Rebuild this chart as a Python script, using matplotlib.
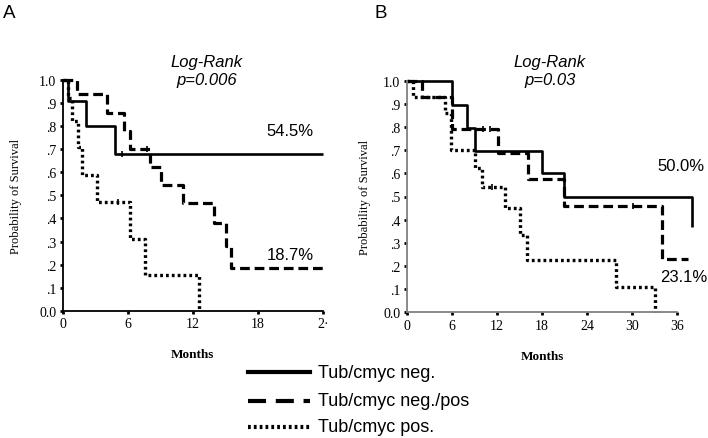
import matplotlib
matplotlib.use("Agg")
import matplotlib.pyplot as plt
from matplotlib.lines import Line2D

plt.rcParams['lines.scale_dashes'] = False

# ---------------- data ----------------
# Panel A (months, survival probability)
a_neg_t = [0, 0.45, 2.15, 4.8, 24.0]
a_neg_s = [1.0, 0.909, 0.80, 0.68, 0.68]
a_negpos_t = [0, 1.3, 4.1, 5.66, 6.2, 8.06, 9.08, 11.1, 14.0, 15.1, 15.5, 24.0]
a_negpos_s = [1.0, 0.937, 0.857, 0.778, 0.70, 0.623, 0.543, 0.465, 0.38, 0.28, 0.187, 0.187]
a_pos_t = [0, 0.5, 0.83, 1.44, 1.75, 3.14, 6.2, 7.6, 12.6]
a_pos_s = [1.0, 0.92, 0.82, 0.71, 0.59, 0.47, 0.31, 0.155, 0.0]
a_neg_cens_t = [5.5]
a_neg_cens_s = [0.68]
a_negpos_cens_t = [7.8]
a_negpos_cens_s = [0.70]
a_pos_cens_t = [5.1]
a_pos_cens_s = [0.47]

# Panel B
b_neg_t = [0, 6.0, 8.07, 9.08, 17.95, 20.9, 37.9]
b_neg_s = [1.0, 0.896, 0.795, 0.698, 0.60, 0.50, 0.37]
b_negpos_t = [0, 2.0, 6.0, 12.2, 16.2, 20.9, 34.0, 37.4]
b_negpos_s = [1.0, 0.929, 0.79, 0.687, 0.575, 0.46, 0.23, 0.23]
b_pos_t = [0, 0.9, 5.1, 5.9, 9.1, 10.0, 13.1, 15.1, 16.0, 27.9, 33.0]
b_pos_s = [1.0, 0.93, 0.86, 0.70, 0.622, 0.54, 0.45, 0.335, 0.225, 0.11, 0.0]
b_negpos_cens_t = [10.2, 11.1, 30.1]
b_negpos_cens_s = [0.79, 0.79, 0.46]
b_pos_cens_t = [11.3]
b_pos_cens_s = [0.54]

y_ticks = [0.0, 0.1, 0.2, 0.3, 0.4, 0.5, 0.6, 0.7, 0.8, 0.9, 1.0]
y_ticklabels = ["0.0", ".1", ".2", ".3", ".4", ".5", ".6", ".7", ".8", ".9", "1.0"]
a_xticks = [0, 6, 12, 18, 24]
a_xticklabels = ["0", "6", "12", "18", "2·"]
b_xticks = [0, 6, 12, 18, 24, 30, 36]
b_xticklabels = ["0", "6", "12", "18", "24", "30", "36"]

legend_labels = ["Tub/cmyc neg.", "Tub/cmyc neg./pos", "Tub/cmyc pos."]

# ---------------- styles ----------------
W, H = 708, 439
solid_kw = dict(color='black', lw=1.9, linestyle='-')
dash_kw = dict(color='black', lw=2.3, linestyle=(0, (7, 3.5)))
dot_kw = dict(color='black', lw=2.4, linestyle=(0, (2.0, 2.2)))

serif = ['Liberation Serif', 'DejaVu Serif']
sans = ['Liberation Sans', 'DejaVu Sans']

fig = plt.figure(figsize=(W / 100, H / 100), dpi=100)


def px_rect(x0, x1, ytop, ybot):
    return [x0 / W, 1 - ybot / H, (x1 - x0) / W, (ybot - ytop) / H]


def style_axes(ax, xticks, xlabels, xmax, spine_color):
    ax.set_xlim(0, xmax)
    ax.set_ylim(0, 1)
    for s in ['top', 'right']:
        ax.spines[s].set_visible(False)
    for s in ['left', 'bottom']:
        ax.spines[s].set_color(spine_color)
        ax.spines[s].set_linewidth(1.3)
    ax.set_yticks(y_ticks)
    ax.set_yticklabels(y_ticklabels, family=serif, fontsize=10)
    ax.set_xticks(xticks)
    ax.set_xticklabels(xlabels, family=serif, fontsize=10)
    ax.tick_params(axis='both', length=2.5, width=2, color='black', pad=2)
    ax.set_xlabel("Months", family=serif, fontsize=9.5, fontweight='bold', labelpad=13)
    ax.set_ylabel("Probability of Survival", family=serif, fontsize=9)
    ax.patch.set_alpha(0)


def draw(ax, t, s, kw):
    ax.step(t, s, where='post', clip_on=False, solid_capstyle='butt',
            dash_capstyle='butt', **kw)


def cens(ax, t, s):
    ax.plot(t, s, linestyle='none', marker='|', markersize=5, mew=1.2,
            color='black', clip_on=False)


# Panel A
axA = fig.add_axes(px_rect(62.7, 322.7, 80.7, 312))
style_axes(axA, a_xticks, a_xticklabels, 24, 'black')
draw(axA, a_neg_t, a_neg_s, solid_kw)
draw(axA, a_negpos_t, a_negpos_s, dash_kw)
draw(axA, a_pos_t, a_pos_s, dot_kw)
cens(axA, a_neg_cens_t, a_neg_cens_s)
cens(axA, a_negpos_cens_t, a_negpos_cens_s)
cens(axA, a_pos_cens_t, a_pos_cens_s)
axA.yaxis.set_label_coords(-0.157, 0.5)

# Panel B
axB = fig.add_axes(px_rect(406.7, 677.3, 81.7, 313.3))
style_axes(axB, b_xticks, b_xticklabels, 36, '#808080')
draw(axB, b_neg_t, b_neg_s, solid_kw)
draw(axB, b_negpos_t, b_negpos_s, dash_kw)
draw(axB, b_pos_t, b_pos_s, dot_kw)
cens(axB, b_negpos_cens_t, b_negpos_cens_s)
cens(axB, b_pos_cens_t, b_pos_cens_s)
axB.yaxis.set_label_coords(-0.132, 0.5)


def ftext(x, y, s, **kw):
    fig.text(x / W, 1 - y / H, s, **kw)


# panel letters
ftext(9, 14, "A", family=sans, fontsize=13.5, ha='center', va='center')
ftext(381, 14, "B", family=sans, fontsize=13.5, ha='center', va='center')

# log-rank annotations
ftext(207, 62, "Log-Rank", family=sans, fontsize=12, style='italic', ha='center', va='center')
ftext(207, 81, "p=0.006", family=sans, fontsize=12, style='italic', ha='center', va='center')
ftext(550, 62, "Log-Rank", family=sans, fontsize=12, style='italic', ha='center', va='center')
ftext(550, 81, "p=0.03", family=sans, fontsize=12, style='italic', ha='center', va='center')

# percentages
ftext(290, 131, "54.5%", family=sans, fontsize=12, ha='center', va='center')
ftext(290, 256, "18.7%", family=sans, fontsize=12, ha='center', va='center')
ftext(681, 167, "50.0%", family=sans, fontsize=12, ha='center', va='center')
ftext(684, 277, "23.1%", family=sans, fontsize=12, ha='center', va='center')

# legend
leg_y = [373, 402, 428]
leg_styles = [dict(color='black', lw=3, linestyle='-'),
              dict(color='black', lw=3, linestyle=(0, (13, 7))),
              dict(color='black', lw=3, linestyle=(0, (2.0, 2.2)))]
for y, lab, st in zip(leg_y, legend_labels, leg_styles):
    fig.add_artist(Line2D([248 / W, 310 / W], [1 - y / H, 1 - y / H],
                          transform=fig.transFigure, **st))
    ftext(318, y, lab, family=sans, fontsize=13, ha='left', va='center')

fig.savefig("out.png", dpi=100)
